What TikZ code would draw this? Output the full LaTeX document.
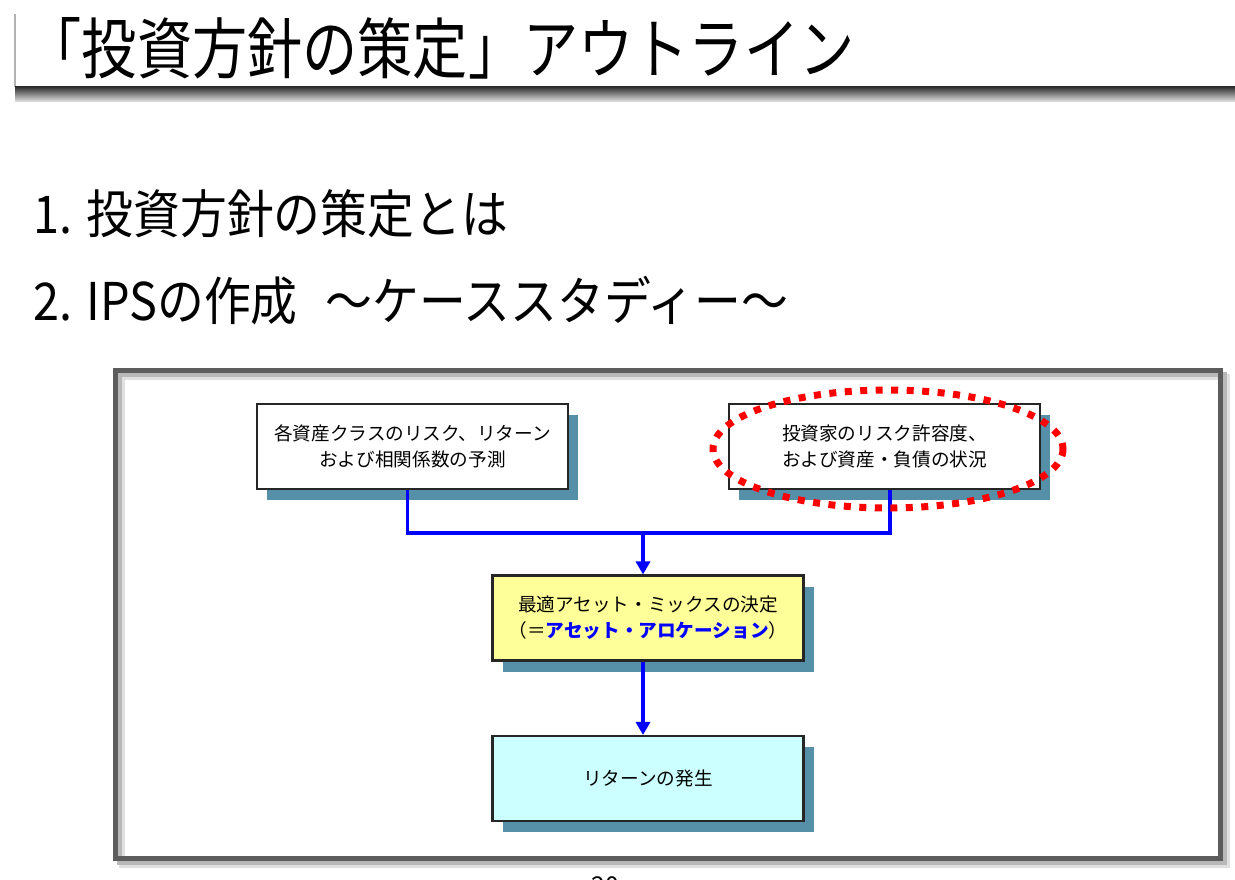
\documentclass[tikz,border=0pt]{standalone}
\usepackage{fontspec}
\setmainfont{Noto Sans CJK JP}
\usetikzlibrary{arrows.meta, shadows, positioning}
\definecolor{shadowteal}{RGB}{85,144,168}
\definecolor{mixyellow}{RGB}{255,255,153}
\definecolor{retcyan}{RGB}{204,255,255}
\definecolor{framegray}{RGB}{92,92,92}
\definecolor{ringred}{RGB}{255,0,0}

\begin{document}
\begin{tikzpicture}[
    x=0.1mm, y=-0.1mm,
    >={Triangle[width=1.4mm,length=1.3mm]},
    flowbox/.style={draw=black!85, line width=0.6pt, inner sep=0pt,
        minimum width=31.1mm, minimum height=8.5mm, align=center,
        font=\fontsize{5.3pt}{7.4pt}\selectfont,
        drop shadow={shadow xshift=1mm, shadow yshift=-1.1mm,
            fill=shadowteal, opacity=1}},
    outline/.style={anchor=west, inner sep=0pt, xscale=0.9, transform shape,
        font=\fontsize{14.8pt}{15pt}\selectfont},
    link/.style={blue, line width=1.1pt},
    redring/.style={ringred, line width=0.7mm, dash pattern=on 0.7mm off 0.85mm},
]

%--- Page size (pixels of the slide, y downwards) ---
\useasboundingbox (0,0) rectangle (1235,879);

%--- Coordinates ---
\def\Ax{412.5}      % left upper box centre x
\def\Bx{884.5}      % right upper box centre x
\def\Cx{648}        % centre column x
\def\Yup{446.5}     % upper row centre y
\def\Ymix{618}      % mix box centre y
\def\Yret{778.5}    % return box centre y
\def\Yjoin{533}     % y level where the two lines meet

%============================================================
% Title and its bar
%============================================================
\draw[black!30, line width=0.3pt] (15,14) -- (15,87);
\shade[top color=black!85, bottom color=black!15] (15,86) rectangle (1235,101);
\node[anchor=west, inner sep=0pt, font=\fontsize{15.7pt}{16pt}\selectfont,
    yscale=1.2, transform shape] (title) at (26,48) {「投資方針の策定」アウトライン};

%============================================================
% Outline items
%============================================================
\node[outline] (itemone) at (33,214) {1. 投資方針の策定とは};
\node[outline] (itemtwo) at (33,301) {2. IPSの作成\hspace{0.6em}～ケーススタディー～};

%============================================================
% Frame
%============================================================
\draw[black!12, line width=0.6mm] (122,377) rectangle (1227,865);
\draw[black!28, line width=0.5mm] (119,374) rectangle (1224,862);
\draw[framegray, line width=0.5mm] (115,370) rectangle (1220,858);

%============================================================
% Boxes
%============================================================
\node[flowbox, fill=white] (riskret) at (\Ax,\Yup)
    {各資産クラスのリスク、リターン\\および相関係数の予測};
\node[flowbox, fill=white] (investor) at (\Bx,\Yup)
    {投資家のリスク許容度、\\および資産・負債の状況};
\node[flowbox, fill=mixyellow] (mix) at (\Cx,\Ymix)
    {最適アセット・ミックスの決定\\（＝\textbf{\color{blue}アセット・アロケーション}）};
\node[flowbox, fill=retcyan] (ret) at (\Cx,\Yret) {リターンの発生};

%============================================================
% Connectors
%============================================================
\coordinate (join) at (643,\Yjoin);
\draw[link] ([xshift=-0.5mm]riskret.south) |- (join)
    -| ([xshift=0.55mm]investor.south);
\draw[link, ->] (join) -- ([xshift=-0.5mm]mix.north);
\draw[link, ->] ([xshift=-0.5mm]mix.south) -- ([xshift=-0.5mm]ret.north);

% Red dotted ring round the investor box
\draw[redring] (888,449) ellipse [x radius=175, y radius=59];

%============================================================
% Page number (cut by the page edge)
%============================================================
\node[font=\fontsize{7pt}{8pt}\selectfont] (pagenum) at (605,886) {20};

\end{tikzpicture}
\end{document}
